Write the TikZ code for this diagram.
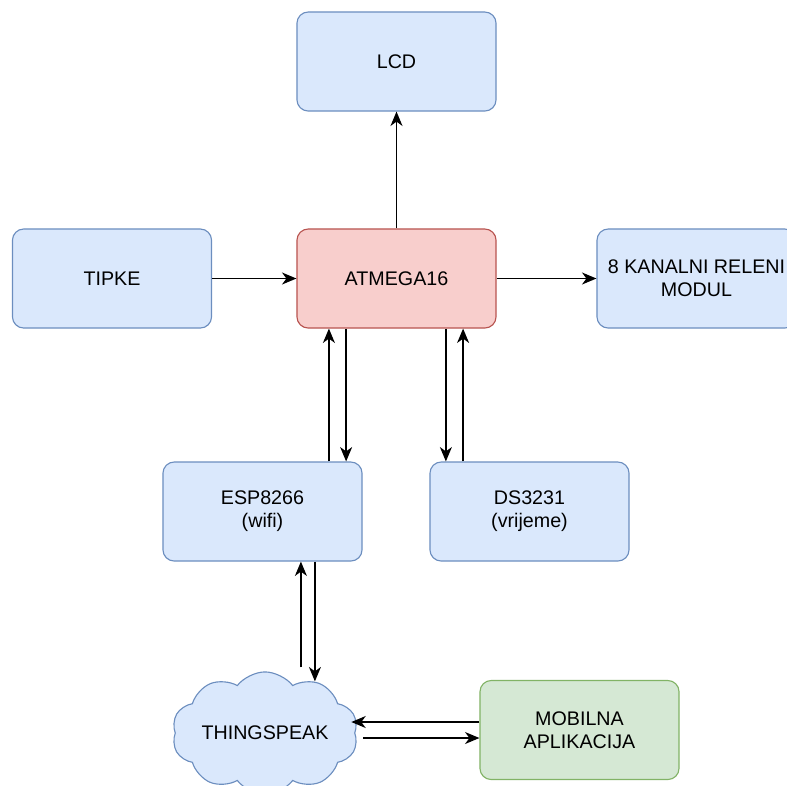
\documentclass[tikz,border=0pt]{standalone}
\usepackage{fontspec}
\setmainfont{Liberation Sans}
\usetikzlibrary{arrows.meta, shapes.symbols}
\definecolor{blueFill}{HTML}{DAE8FC}
\definecolor{blueLine}{HTML}{6C8EBF}
\definecolor{redFill}{HTML}{F8CECC}
\definecolor{redLine}{HTML}{B85450}
\definecolor{greenFill}{HTML}{D5E8D4}
\definecolor{greenLine}{HTML}{82B366}

\begin{document}
\begin{tikzpicture}[x=0.025cm, y=-0.025cm]
		\tikzset{block/.style = {shape=rectangle, rounded corners=0.28cm, draw=blueLine, fill=blueFill, line width=0.8pt,
				minimum width=4.975cm, minimum height=2.475cm, align=center, font=\fontsize{14}{16.5}\selectfont}}
		\tikzset{edge/.style = {-{Stealth[length=3.6mm, width=3mm, inset=1.1mm]}, line width=1pt}}

		\useasboundingbox (0,0) rectangle (787,785);
		\clip (0,0) rectangle (787,785);

		\node[block] (LCD) at (396.5,61.5) {LCD};
		\node[block] (TIPKE) at (112,278.5) {TIPKE};
		\node[block, draw=redLine, fill=redFill] (ATM) at (396.5,278.5) {ATMEGA16};
		\node[block] (REL) at (696.5,278.5) {8 KANALNI RELENI\\MODUL};
		\node[block] (ESP) at (262.5,511.5) {ESP8266\\(wifi)};
		\node[block] (DS) at (529.5,511.5) {DS3231\\(vrijeme)};
		\node[block, draw=greenLine, fill=greenFill] (MOB) at (579.5,730) {MOBILNA\\APLIKACIJA};
		\node[block, shape=cloud, cloud puffs=10, cloud puff arc=105, aspect=1.8, rounded corners=0pt, inner sep=0pt,
			minimum width=3.55cm, minimum height=1.95cm] (TS) at (265,733) {THINGSPEAK};


		\draw[edge] (ATM) to (LCD);
		\draw[edge] (TIPKE) to (ATM);
		\draw[edge] (ATM) to (REL);

		\draw[edge] ([xshift=1.66cm]ESP.north) to ([xshift=1.66cm]ESP.north |- ATM.south);
		\draw[edge] ([xshift=2.09cm]ESP.north |- ATM.south) to ([xshift=2.09cm]ESP.north);
		\draw[edge] ([xshift=-2.09cm]DS.north |- ATM.south) to ([xshift=-2.09cm]DS.north);
		\draw[edge] ([xshift=-1.66cm]DS.north) to ([xshift=-1.66cm]DS.north |- ATM.south);

		\draw[edge] ([xshift=0.96cm, yshift=0.1cm]ESP.south |- TS.north) to ([xshift=0.96cm]ESP.south);
		\draw[edge] ([xshift=1.31cm]ESP.south) to ([xshift=1.31cm, yshift=-0.25cm]ESP.south |- TS.north);

		\draw[edge] ([yshift=0.2cm]MOB.west) to ([yshift=0.2cm, xshift=-0.1cm]MOB.west -| TS.east);
		\draw[edge] ([yshift=-0.2cm, xshift=0.2cm]MOB.west -| TS.east) to ([yshift=-0.2cm]MOB.west);

	\end{tikzpicture}
\end{document}
